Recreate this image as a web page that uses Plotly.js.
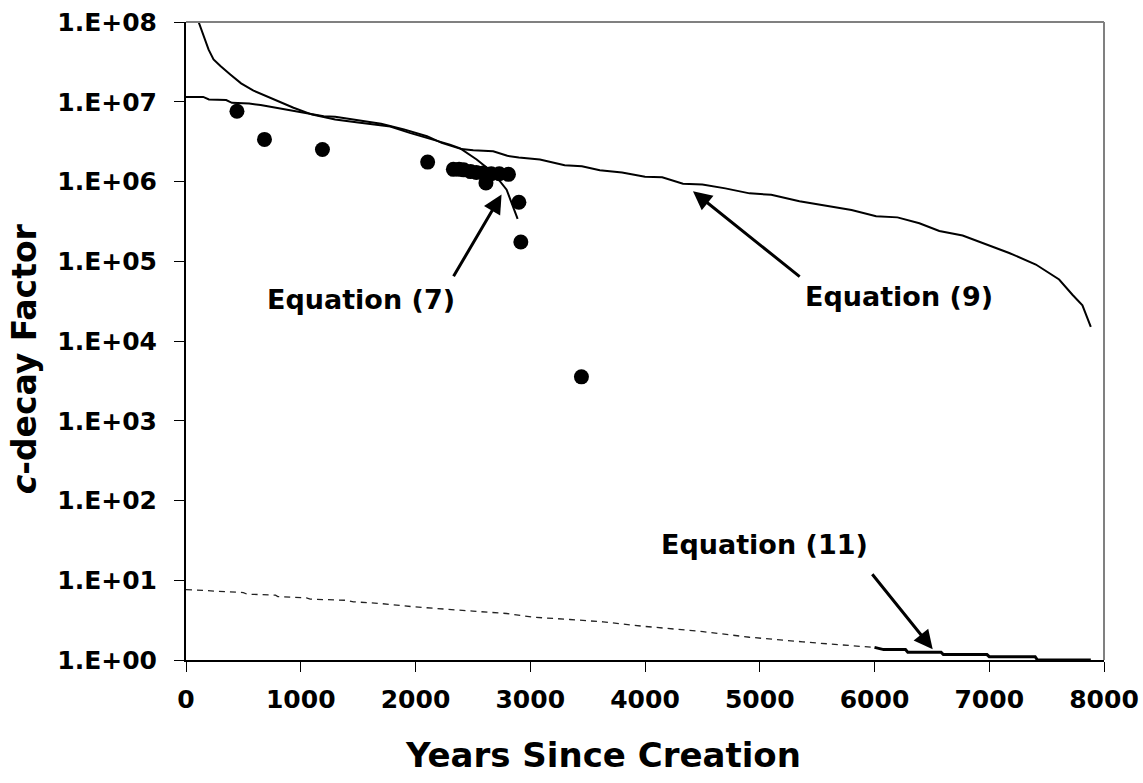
<!DOCTYPE html>
<html>
<head>
<meta charset="utf-8">
<script src="https://cdn.plot.ly/plotly-3.0.1.min.js"></script>
<style>html,body{margin:0;padding:0;background:#fff;}#chart{width:1143px;height:783px;}</style>
</head>
<body>
<div id="chart"></div>
<script>
// Observed data points
const obsYears = [444, 684, 1189, 2106, 2330, 2380, 2420, 2480, 2530, 2590, 2614, 2660, 2730, 2810, 2901, 2918, 3446];
const obsC = [7.6e6, 3.37e6, 2.52e6, 1.75e6, 1.42e6, 1.42e6, 1.40e6, 1.33e6, 1.30e6, 1.28e6, 9.6e5, 1.25e6, 1.25e6, 1.23e6, 5.5e5, 1.74e5, 3.55e3];

// Equation (7)
const eq7Years = [110, 197, 240, 300, 386, 480, 588, 700, 792, 937, 1100, 1300, 1500, 1780, 1950, 2155, 2300, 2390, 2533, 2677, 2794, 2890];
const eq7C = [1.0e8, 4.5e7, 3.4e7, 2.8e7, 2.2e7, 1.7e7, 1.38e7, 1.18e7, 1.02e7, 8.4e6, 6.9e6, 6.0e6, 5.5e6, 4.9e6, 4.07e6, 3.37e6, 2.9e6, 2.6e6, 1.89e6, 1.29e6, 7.9e5, 3.4e5];

// Equation (9)
const eq9Years = [0, 150, 200, 350, 400, 550, 650, 908, 1050, 1200, 1300, 1500, 1700, 1900, 2100, 2228, 2400, 2503, 2677, 2800, 2900, 3084, 3300, 3450, 3606, 3800, 4000, 4150, 4331, 4500, 4700, 4911, 5100, 5346, 5607, 5800, 6014, 6200, 6391, 6565, 6768, 6942, 7174, 7406, 7609, 7725, 7812, 7885];
const eq9C = [1.15e7, 1.15e7, 1.07e7, 1.05e7, 9.7e6, 9.5e6, 9.1e6, 7.76e6, 7.2e6, 6.6e6, 6.5e6, 5.9e6, 5.3e6, 4.5e6, 3.7e6, 3.05e6, 2.55e6, 2.46e6, 2.4e6, 2.1e6, 2.0e6, 1.89e6, 1.6e6, 1.55e6, 1.38e6, 1.3e6, 1.15e6, 1.13e6, 9.4e5, 9.2e5, 8.2e5, 7.1e5, 6.8e5, 5.66e5, 4.9e5, 4.4e5, 3.67e5, 3.55e5, 3.0e5, 2.4e5, 2.1e5, 1.7e5, 1.27e5, 9.1e4, 5.9e4, 3.8e4, 2.8e4, 1.5e4];

// Equation (11) - dashed part
const eq11aYears = [0, 200, 240, 500, 531, 780, 800, 1050, 1082, 1400, 1459, 1700, 1981, 2271, 2500, 2794, 3025, 3345, 3635, 3983, 4250, 4505, 4911, 5100, 5375, 5700, 6000];
const eq11aC = [7.65, 7.4, 7.2, 7.0, 6.7, 6.5, 6.25, 6.0, 5.8, 5.6, 5.37, 5.1, 4.65, 4.3, 4.1, 3.83, 3.44, 3.22, 3.01, 2.65, 2.45, 2.27, 1.93, 1.82, 1.69, 1.55, 1.44];
// Equation (11) - solid part
const eq11bYears = [6000, 6080, 6270, 6290, 6580, 6600, 6980, 7000, 7400, 7420, 7885];
const eq11bC = [1.44, 1.35, 1.35, 1.25, 1.25, 1.17, 1.17, 1.10, 1.10, 1.0, 1.0];

const yTickVals = [1, 10, 100, 1000, 1e4, 1e5, 1e6, 1e7, 1e8];
const yTickText = ['1.E+00', '1.E+01', '1.E+02', '1.E+03', '1.E+04', '1.E+05', '1.E+06', '1.E+07', '1.E+08'];

const xTitle = 'Years Since Creation';
const yTitle = '<i>c</i>-decay Factor';

const labels = [
  {text: 'Equation (7)', x: 1528, y: 3.3e4, ax: 2324, ay: 6.2e4, hx: 2750, hy: 6.87e5},
  {text: 'Equation (9)', x: 6217, y: 3.6e4, ax: 5361, ay: 6.2e4, hx: 4418, hy: 7.55e5},
  {text: 'Equation (11)', x: 5044, y: 28, ax: 5970, ay: 12.4, hx: 6507, hy: 1.36}
];

const FONT = 'DejaVu Sans, Verdana, sans-serif';

const traces = [
  {x: eq11aYears, y: eq11aC, mode: 'lines', line: {color: '#222', width: 1.3, dash: '6px,5px'}, hoverinfo: 'skip'},
  {x: eq11bYears, y: eq11bC, mode: 'lines', line: {color: '#000', width: 3}, hoverinfo: 'skip'},
  {x: eq9Years, y: eq9C, mode: 'lines', line: {color: '#000', width: 2}, hoverinfo: 'skip'},
  {x: eq7Years, y: eq7C, mode: 'lines', line: {color: '#000', width: 2}, hoverinfo: 'skip'},
  {x: obsYears, y: obsC, mode: 'markers', marker: {color: '#000', size: 15}, hoverinfo: 'skip'}
];

const annotations = [];
labels.forEach(l => {
  annotations.push({x: l.x, y: Math.log10(l.y), xref: 'x', yref: 'y', text: l.text, showarrow: false,
    font: {family: FONT, size: 27, color: '#000', weight: 'bold'}});
  annotations.push({x: l.hx, y: Math.log10(l.hy), xref: 'x', yref: 'y', ax: l.ax, ay: Math.log10(l.ay),
    axref: 'x', ayref: 'y', text: '', showarrow: true, arrowhead: 2, arrowsize: 1.25, arrowwidth: 3, arrowcolor: '#000'});
});
// axis titles
annotations.push({x: 0.4544, y: -0.149, xref: 'paper', yref: 'paper', xanchor: 'center', yanchor: 'middle',
  text: xTitle, showarrow: false, font: {family: FONT, size: 34, color: '#000', weight: 'bold'}});
annotations.push({x: -0.175, y: 0.4718, xref: 'paper', yref: 'paper', xanchor: 'center', yanchor: 'middle',
  text: yTitle, textangle: -90, showarrow: false, font: {family: FONT, size: 33, color: '#000', weight: 'bold'}});

const layout = {
  width: 1143, height: 783,
  margin: {l: 186, r: 39, t: 22, b: 123, pad: 0},
  paper_bgcolor: '#fff', plot_bgcolor: '#fff',
  showlegend: false,
  font: {family: FONT, size: 25, color: '#000'},
  xaxis: {
    range: [0, 8000], dtick: 1000, tick0: 0, showgrid: false, zeroline: false,
    showline: true, linecolor: '#000', linewidth: 2,
    ticks: 'outside', ticklen: 10, tickwidth: 1, tickcolor: '#000',
    ticklabelstandoff: 6,
    tickfont: {family: FONT, size: 25, weight: 'bold', color: '#000'}
  },
  yaxis: {
    type: 'log', range: [0, 8], tickmode: 'array', tickvals: yTickVals, ticktext: yTickText,
    showgrid: false, zeroline: false,
    showline: true, linecolor: '#000', linewidth: 2,
    ticks: 'outside', ticklen: 10, tickwidth: 1, tickcolor: '#000',
    ticklabelstandoff: 12,
    tickfont: {family: FONT, size: 25, weight: 'bold', color: '#000'}
  },
  shapes: [
    {type: 'line', xref: 'paper', yref: 'paper', x0: 0, x1: 1, y0: 1, y1: 1, line: {color: '#808080', width: 2}},
    {type: 'line', xref: 'paper', yref: 'paper', x0: 1, x1: 1, y0: 0, y1: 1, line: {color: '#808080', width: 2}}
  ],
  annotations: annotations
};

Plotly.newPlot('chart', traces, layout, {staticPlot: true, displayModeBar: false});
</script>
</body>
</html>
